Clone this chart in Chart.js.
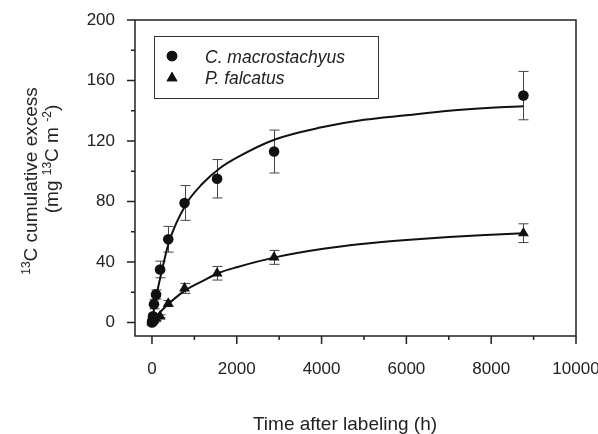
<!DOCTYPE html>
<html>
<head>
<meta charset="utf-8">
<script src="https://cdn.jsdelivr.net/npm/chart.js@4.4.1/dist/chart.umd.min.js"></script>
<style>
  html, body { margin: 0; padding: 0; background: #fff; }
  #wrap { width: 598px; height: 434px; }
</style>
</head>
<body>
<div id="wrap"><canvas id="chart" width="598" height="434"></canvas></div>
<script>
// --- DATA ---
const times = [0, 6, 24, 48, 96, 192, 384, 768, 1536, 2880, 8760];
const cMacro = [0, 1, 4, 12, 18.5, 35, 55, 79, 95, 113, 150];
const cMacroErr = [0, 0.5, 1.5, 3, 3, 5.5, 8.5, 11.5, 12.7, 14.2, 16];
const pFalc = [0, 0.5, 1, 1.5, 2.5, 4, 12.5, 22.5, 32.5, 43, 59];
const pFalcErr = [0, 0.3, 0.5, 0.5, 1, 1, 2, 3.3, 4.5, 4.6, 6.2];

// fitted curves
const fitTimes = [0, 50, 100, 200, 400, 800, 1200, 1600, 2000, 2900, 4000, 5000, 6000, 7000, 8000, 8760];
const cMacroFit = [0, 9, 17, 30, 53, 78, 92, 102, 109, 121, 129, 134, 137, 140, 142, 143];
const pFalcFit = [0, 2, 4, 7, 12.5, 21.5, 27.5, 33, 36.5, 43, 48.5, 52, 54.5, 56.5, 58, 59];

// axes
const xTicks = [0, 2000, 4000, 6000, 8000, 10000];
const xMinor = [1000, 3000, 5000, 7000, 9000];
const yTicks = [0, 40, 80, 120, 160, 200];
const yMinor = [20, 60, 100, 140, 180];

const FONT = '"Liberation Sans", Arial, sans-serif';

const pts = (xs, ys) => xs.map((x, i) => ({ x: x, y: ys[i] }));

// --- ERROR BARS, FRAME, TICKS, TITLES, LEGEND ---
const decor = {
    id: 'decor',
    beforeDatasetsDraw(chart) {
        const ctx = chart.ctx;
        const xs = chart.scales.x, ys = chart.scales.y;
        ctx.save();
        ctx.strokeStyle = '#444';
        ctx.lineWidth = 1;
        [[cMacro, cMacroErr], [pFalc, pFalcErr]].forEach(([vals, errs]) => {
            times.forEach((t, i) => {
                if (!errs[i] || errs[i] < 1) return;
                const px = Math.round(xs.getPixelForValue(t)) + 0.5;
                const top = ys.getPixelForValue(vals[i] + errs[i]);
                const bot = ys.getPixelForValue(vals[i] - errs[i]);
                ctx.beginPath();
                ctx.moveTo(px, top); ctx.lineTo(px, bot);
                ctx.moveTo(px - 5, top); ctx.lineTo(px + 5, top);
                ctx.moveTo(px - 5, bot); ctx.lineTo(px + 5, bot);
                ctx.stroke();
            });
        });
        ctx.restore();
    },
    afterDraw(chart) {
        const ctx = chart.ctx;
        const a = chart.chartArea;
        const xs = chart.scales.x, ys = chart.scales.y;
        ctx.save();
        ctx.strokeStyle = '#222';
        ctx.lineWidth = 1.5;
        ctx.strokeRect(a.left, a.top, a.right - a.left, a.bottom - a.top);

        // ticks
        ctx.lineWidth = 1.5;
        ctx.beginPath();
        xTicks.forEach(v => { const p = xs.getPixelForValue(v); ctx.moveTo(p, a.bottom); ctx.lineTo(p, a.bottom + 8); });
        xMinor.forEach(v => { const p = xs.getPixelForValue(v); ctx.moveTo(p, a.bottom); ctx.lineTo(p, a.bottom + 4); });
        yTicks.forEach(v => { const p = ys.getPixelForValue(v); ctx.moveTo(a.left, p); ctx.lineTo(a.left - 8, p); });
        yMinor.forEach(v => { const p = ys.getPixelForValue(v); ctx.moveTo(a.left, p); ctx.lineTo(a.left - 4, p); });
        ctx.stroke();

        // x title
        ctx.fillStyle = '#222';
        ctx.font = '19px ' + FONT;
        ctx.textAlign = 'center';
        ctx.textBaseline = 'alphabetic';
        ctx.fillText('Time after labeling (h)', 345, 430);

        // y title, two rotated lines with superscripts
        drawRuns(ctx, 37, 181, [['13', true], ['C cumulative excess', false]]);
        drawRuns(ctx, 58, 159, [['(mg ', false], ['13', true], ['C m ', false], ['-2', true], [')', false]]);

        // legend
        ctx.strokeStyle = '#333';
        ctx.lineWidth = 1;
        ctx.strokeRect(154.5, 36.5, 224, 62);
        ctx.fillStyle = '#111';
        Chart.helpers.drawPoint(ctx, { pointStyle: 'circle', radius: 5.3, borderWidth: 0 }, 172, 56);
        ctx.fill();
        Chart.helpers.drawPoint(ctx, { pointStyle: 'triangle', radius: 6.3, borderWidth: 0 }, 172, 78);
        ctx.fill();
        ctx.fillStyle = '#222';
        ctx.textAlign = 'left';
        ctx.font = 'italic 17.5px ' + FONT;
        ctx.fillText('C. macrostachyus', 205, 62.5);
        ctx.fillText('P. falcatus', 205, 84);
        ctx.restore();
    }
};

function drawRuns(ctx, bx, cy, runs) {
    const big = '19px ' + FONT, small = '12px ' + FONT;
    let total = 0;
    runs.forEach(([s, sup]) => { ctx.font = sup ? small : big; total += ctx.measureText(s).width; });
    ctx.save();
    ctx.translate(bx, cy);
    ctx.rotate(-Math.PI / 2);
    ctx.textAlign = 'left';
    ctx.textBaseline = 'alphabetic';
    let x = -total / 2;
    runs.forEach(([s, sup]) => {
        ctx.font = sup ? small : big;
        ctx.fillText(s, x, sup ? -7 : 0);
        x += ctx.measureText(s).width;
    });
    ctx.restore();
}

const ctx = document.getElementById('chart').getContext('2d');
new Chart(ctx, {
    type: 'scatter',
    data: {
        datasets: [
            { label: 'C fit', data: pts(fitTimes, cMacroFit), showLine: true, pointRadius: 0,
              borderColor: '#111', borderWidth: 2, cubicInterpolationMode: 'monotone' },
            { label: 'P fit', data: pts(fitTimes, pFalcFit), showLine: true, pointRadius: 0,
              borderColor: '#111', borderWidth: 2, cubicInterpolationMode: 'monotone' },
            { label: 'C. macrostachyus', data: pts(times, cMacro), pointStyle: 'circle', pointRadius: 5.3,
              backgroundColor: '#111', borderColor: '#111', borderWidth: 0 },
            { label: 'P. falcatus', data: pts(times, pFalc), pointStyle: 'triangle', pointRadius: 6.3,
              backgroundColor: '#111', borderColor: '#111', borderWidth: 0 }
        ]
    },
    options: {
        responsive: false,
        animation: false,
        layout: { padding: { left: 0, top: 20, right: 22, bottom: 0 } },
        plugins: { legend: { display: false }, tooltip: { enabled: false } },
        scales: {
            x: {
                type: 'linear', min: -400, max: 10000,
                grid: { display: false, drawTicks: false },
                border: { display: false },
                afterBuildTicks: s => { s.ticks = xTicks.map(v => ({ value: v })); },
                afterFit: s => { s.height = 98; s.paddingLeft = 0; s.paddingRight = 0; },
                ticks: { color: '#222', padding: 23, maxRotation: 0, autoSkip: false,
                         font: { family: FONT, size: 17 }, callback: v => String(v) }
            },
            y: {
                type: 'linear', min: -9, max: 200,
                grid: { display: false, drawTicks: false },
                border: { display: false },
                afterBuildTicks: s => { s.ticks = yTicks.map(v => ({ value: v })); },
                afterFit: s => { s.width = 135; s.paddingTop = 0; s.paddingBottom = 0; },
                ticks: { color: '#222', padding: 20, autoSkip: false,
                         font: { family: FONT, size: 17 }, callback: v => String(v) }
            }
        }
    },
    plugins: [decor]
});
</script>
</body>
</html>
